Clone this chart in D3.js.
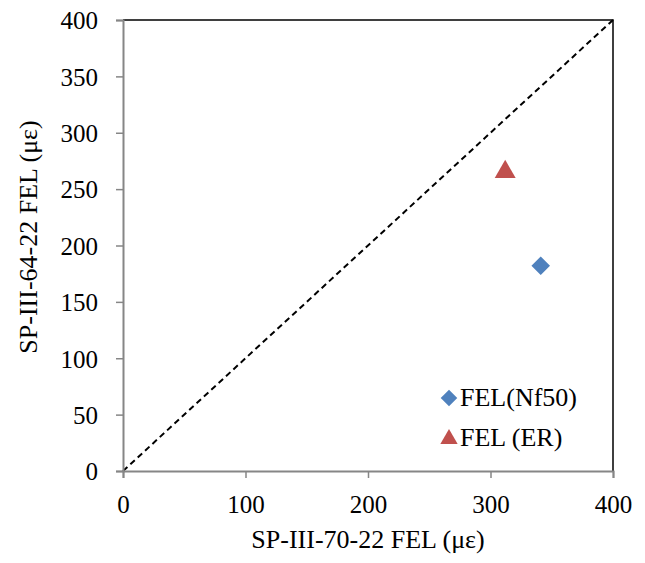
<!DOCTYPE html>
<html><head><meta charset="utf-8">
<script src="https://cdn.jsdelivr.net/npm/d3@7"></script>
<style>body{margin:0;background:#fff}svg{display:block}text{font-family:"Liberation Serif","Times New Roman",serif;fill:#000}</style>
</head><body><svg id="c" width="645" height="563"></svg>
<script>
const seriesNames = ["FEL(Nf50)", "FEL (ER)"];
const seriesX = [341, 312];
const seriesY = [182, 267];
const seriesColors = ["#4F81BD", "#C0504D"];
const seriesShapes = ["diamond", "triangle"];
const xTicks = [0, 100, 200, 300, 400];
const yTicks = [0, 50, 100, 150, 200, 250, 300, 350, 400];
const xTitle = "SP-III-70-22 FEL (με)";
const yTitle = "SP-III-64-22 FEL  (με)";

const svg = d3.select("#c");
const L = 123, R = 613, T = 20, B = 471;
const x = d3.scaleLinear().domain([0, 400]).range([L, R]);
const y = d3.scaleLinear().domain([0, 400]).range([B, T]);

// top/right border
svg.append("path").attr("d", `M${L},${T}H${R}V${B}`).attr("fill","none").attr("stroke","#000").attr("stroke-width",1.5);

// diagonal
svg.append("line").attr("x1",x(0)).attr("y1",y(0)).attr("x2",x(400)).attr("y2",y(400))
  .attr("stroke","#000").attr("stroke-width",2).attr("stroke-dasharray","6,4");

const xAxis = svg.append("g").attr("transform",`translate(0,${B})`)
  .call(d3.axisBottom(x).tickValues(xTicks).tickSize(7).tickPadding(17).tickFormat(d3.format("d")));
const yAxis = svg.append("g").attr("transform",`translate(${L},0)`)
  .call(d3.axisLeft(y).tickValues(yTicks).tickSize(7).tickPadding(18).tickFormat(d3.format("d")));
[xAxis, yAxis].forEach(a => {
  a.attr("font-size",25).attr("font-family","Liberation Serif");
  a.select(".domain").attr("stroke","#868686").attr("stroke-width",2);
  a.selectAll(".tick line").attr("stroke","#868686").attr("stroke-width",1.5);
  a.selectAll("text").style("font-size","25px").attr("fill","#000");
});
yAxis.selectAll("text").attr("dy","0.35em");

seriesNames.forEach((n,i)=>{
  const isD = seriesShapes[i]==="diamond";
  svg.append("path").attr("d", isD ? d3.symbol(d3.symbolDiamond2, 220)() : d3.symbol(d3.symbolTriangle, 190)())
    .attr("transform",`translate(${x(seriesX[i])},${y(seriesY[i]) + (isD?0:2)})`)
    .attr("fill", seriesColors[i]);
  const ly = 398 + i*40;
  svg.append("path").attr("d", isD ? d3.symbol(d3.symbolDiamond2, 175)() : d3.symbol(d3.symbolTriangle, 130)())
    .attr("transform",`translate(449,${ly + (isD?0:1)})`).attr("fill", seriesColors[i]);
  svg.append("text").attr("x",460).attr("y",ly+8).style("font-size","26px").text(n);
});

svg.append("text").attr("x",(L+R)/2).attr("y",548).attr("text-anchor","middle").style("font-size","26px").text(xTitle);
svg.append("text").attr("transform",`translate(37,237) rotate(-90)`).attr("text-anchor","middle").style("font-size","26px").text(yTitle);
</script></body></html>
